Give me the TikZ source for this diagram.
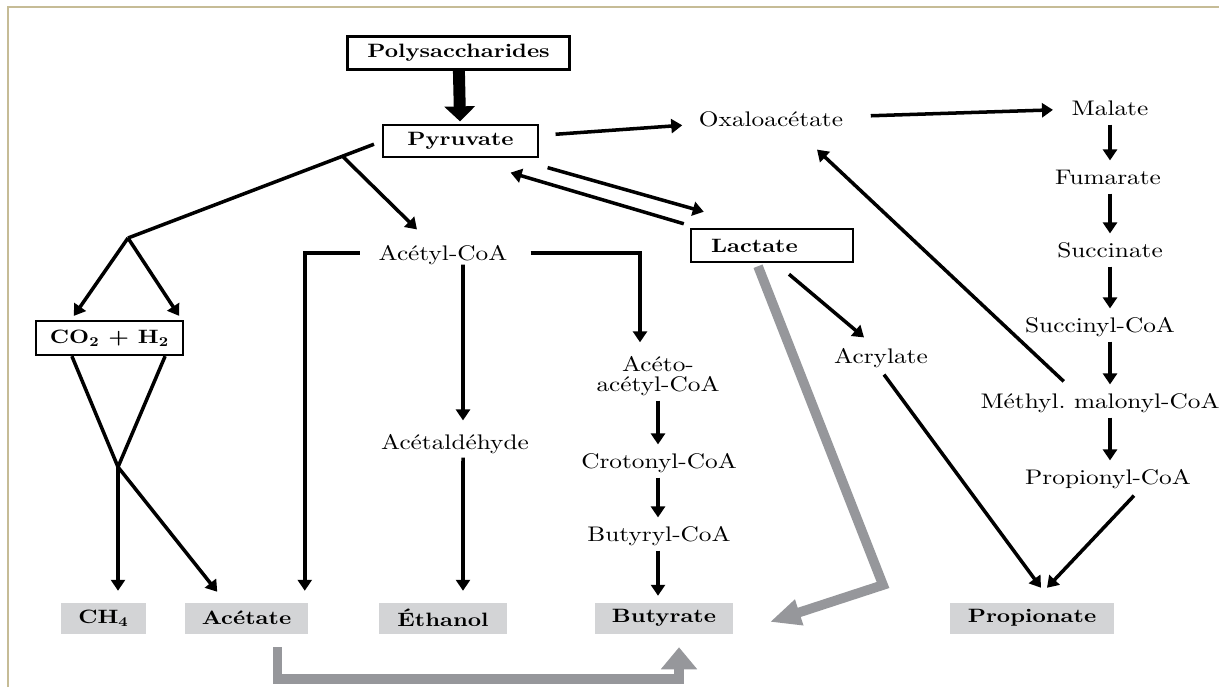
\documentclass[tikz,border=0pt]{standalone}
\usepackage{fontspec}
\setmainfont{lmroman10-regular.otf}[FakeStretch=1.2, BoldFont=lmroman10-bold.otf]
\usetikzlibrary{arrows.meta, calc}
\definecolor{framecol}{HTML}{C6BC96}
\definecolor{prodgray}{HTML}{D3D4D6}
\definecolor{flowgray}{HTML}{96979B}
\frenchspacing

\begin{document}
\begin{tikzpicture}[x=0.02cm, y=-0.02cm, line width=2pt, >={Triangle[width=0.28cm,length=0.22cm]}]
    \tikzstyle{metab}=[inner xsep=0pt, inner ysep=1.5pt, text height=8.2pt, text depth=0pt, font=\fontsize{12}{11.5}\selectfont]
    \tikzstyle{box}=[draw, inner sep=0pt, font=\fontsize{11}{12}\selectfont\bfseries]
    \tikzstyle{product}=[fill=prodgray, inner sep=0pt, minimum height=0.62cm, font=\fontsize{11}{12}\selectfont\bfseries]
    \tikzstyle{flow}=[>={Triangle[width=0.5cm,length=0.62cm]}, ->, draw=flowgray, line width=5.5pt]
    \tikzstyle{bigflow}=[>={Triangle[width=0.6cm,length=0.3cm]}, ->, line width=6.8pt, shorten >=0.06cm]

    \useasboundingbox (0,0) rectangle (1219,687);
    \draw[framecol, line width=1.2pt] (8,687) -- (8,7) -- (1219,7);

    \node[box, line width=1.6pt, minimum width=4.44cm, minimum height=0.66cm] (poly) at (458.5,53) {Polysaccharides};
    \node[box, line width=0.7pt, minimum width=3.1cm, minimum height=0.64cm] (pyr) at (460.5,141) {Pyruvate};
    \node[box, line width=1.4pt, minimum height=0.66cm, text width=2.44cm, inner xsep=0.4cm, align=left] (lac) at (772,245.5) {Lactate};
    \node[box, line width=1.3pt, minimum width=2.94cm, minimum height=0.68cm] (co2) at (109.5,338) {CO\textsubscript{2} + H\textsubscript{2}};

    \foreach \n/\t/\x/\w in {ch4/{CH\textsubscript{4}}/103.5/85, ace/Acétate/246.5/123, eth/Éthanol/443/128, but/Butyrate/664/138, prop/Propionate/1032/164}
        \node[product, minimum width=\w*0.02cm] (\n) at (\x,618) {\t};

    \foreach \n/\t/\x/\y in {oxa/Oxaloacétate/771/119, mal/Malate/1110/108, fum/Fumarate/1108/177, suc/Succinate/1110/250,
        sucoa/Succinyl-CoA/1100/325, mmcoa/Méthyl. malonyl-CoA/1100/401, pcoa/Propionyl-CoA/1108/477,
        acoa/Acétyl-CoA/443/253, aald/Acétaldéhyde/455/442, crcoa/Crotonyl-CoA/659/461, bcoa/Butyryl-CoA/659/534, acry/Acrylate/881/356}
        \node[metab] (\n) at (\x,\y) {\t};
    \node[metab, text height=19.7pt, align=center] (aaca) at (658,374) {Acéto-\\acétyl-CoA};

    \draw[bigflow] (poly) -- (pyr);
    \draw[->, shorten <=0.34cm, shorten >=0.3cm] (pyr) -- (oxa);
    \draw[->, shorten <=0.52cm, shorten >=0.34cm] (oxa) -- (mal);
    \foreach \a/\b in {mal/fum, fum/suc, suc/sucoa, sucoa/mmcoa, mmcoa/pcoa}
        \draw[->, shorten <=0.1cm, shorten >=0.1cm] (\a.south -| mal) -- (\b.north -| mal);
    \draw[->] ($(mmcoa.north west)+(85,-8)$) -- ($(oxa.south)+(46,19)$);
    \draw[->] ($(pcoa.south)+(26,7)$) -- ($(prop.north)+(15,-13)$);
    \draw[->] ($(acry.south)+(3,7)$) -- ($(prop.north)+(9,-13)$);
    \draw[->] ($(lac.south)+(17,11)$) -- ($(acry.north)+(-17,-7)$);

%   pyruvate <-> lactate
    \draw[->] ($(pyr.south east)+(9,10)$) -- ($(lac.north west)+(14,-16)$);
    \draw[->] ($(lac.north west)+(-6,-4)$) -- ($(pyr.south east)+(-28,15)$);

    \coordinate (fork) at (128,238);
    \coordinate (vx) at (118,467);
    \coordinate (bend) at (883,585);
    \draw[shorten <=0.18cm] (pyr.west) -- coordinate[pos=0.157] (br) (fork);
    \draw[->] (fork) -- ($(co2.north west)+(39,-4)$);
    \draw[->] (fork) -- ($(co2.north east)+(-5,-4)$);
    \draw[->] (br) -- ($(acoa.north west)+(40,-12)$);
    \draw ($(co2.south west)+(37,0)$) -- (vx) -- ($(co2.south east)+(-19,0)$);
    \draw[->] (vx) -- ($(vx |- ch4.north)+(0,-10)$);
    \draw[->] (vx) -- ($(ace.north west)+(34,-9)$);

    \draw[->, shorten <=0.34cm] (acoa.west) -| ($(ace.north east)+(-5,-10)$);
    \draw[->, shorten >=0.2cm] ([xshift=0.4cm]acoa.south) -- ([xshift=0.16cm]aald.north);
    \draw[->, shorten <=0.08cm, shorten >=0.2cm] ([xshift=0.16cm]aald.south) -- ([xshift=0.4cm]eth.north);
    \draw[->, shorten <=0.43cm] (acoa.east) -| ($(aaca.north)+(-18,-10)$);
    \foreach \a/\b in {aaca/crcoa, crcoa/bcoa, bcoa/but}
        \draw[->, shorten <=0.1cm, shorten >=0.1cm] (\a.south -| aaca) -- (\b.north -| aaca);

%   grey side routes to butyrate
    \draw[flow, line join=miter] ($(lac.south)+(-14,3)$) -- (bend) -- ($(but.east)+(35,4)$);
    \draw[flow, >={Triangle[width=0.7cm,length=0.44cm]}] ($(ace.south)+(31,12)$) -- ++(0,32) -| ($(but.south)+(15,12)$);
\end{tikzpicture}
\end{document}
